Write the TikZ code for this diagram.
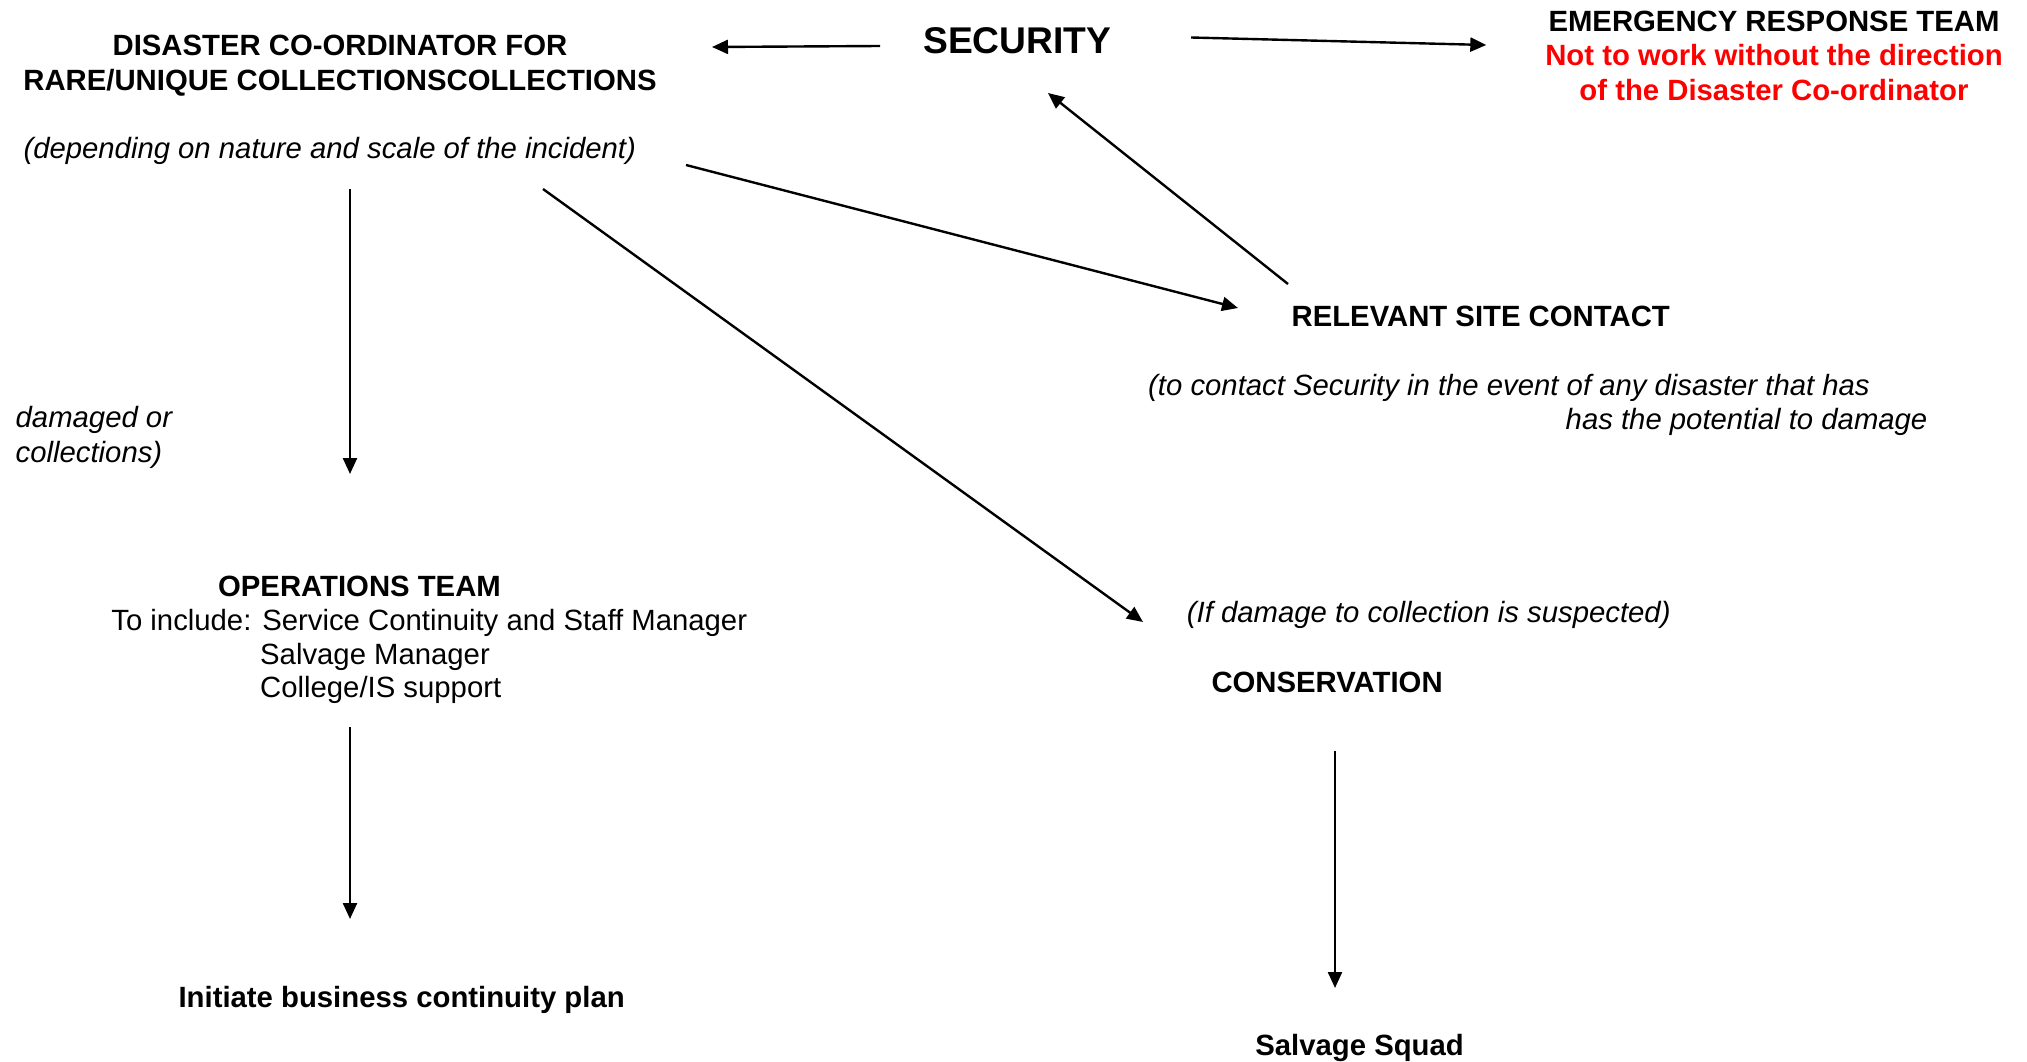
\documentclass[tikz,border=0pt]{standalone}
\usepackage{fontspec}
\setmainfont{Liberation Sans}
\usetikzlibrary{arrows.meta,calc}
\definecolor{alertred}{RGB}{255,0,0}
\tikzset{
  txt/.style={inner sep=0pt, font=\fontsize{29.3pt}{34pt}\selectfont},
  btxt/.style={txt, font=\fontsize{29.3pt}{34pt}\selectfont\bfseries},
  itxt/.style={txt, font=\fontsize{29.3pt}{34pt}\selectfont\itshape},
  arr/.style={line width=2.4pt, -{Triangle[length=16pt,width=14pt]}}
}
\begin{document}
\begin{tikzpicture}[x=1pt,y=-1pt]
\useasboundingbox (0,0) rectangle (2027,1062);
% texts
\node[btxt, anchor=base] (dc1) at (340,55.7) {DISASTER CO-ORDINATOR FOR};
\node[btxt, anchor=base] (dc2) at (340,90.6) {RARE/UNIQUE COLLECTIONSCOLLECTIONS};
\node[itxt, anchor=base west] (dep) at (23.3,158.5) {(depending on nature and scale of the incident)};
\node[inner sep=0pt, font=\fontsize{37.2pt}{42pt}\selectfont\bfseries, anchor=base west] (sec) at (923,53.3) {SECURITY};
\node[btxt, anchor=base] (ert1) at (1774,31.2) {EMERGENCY RESPONSE TEAM};
\node[btxt, text=alertred, anchor=base] (ert2) at (1774,66) {Not to work without the direction};
\node[btxt, text=alertred, anchor=base] (ert3) at (1774,101) {of the Disaster Co-ordinator};
\node[btxt, anchor=base west] (rsc) at (1291.4,326) {RELEVANT SITE CONTACT};
\node[itxt, anchor=base west] (rsc1) at (1148,395) {(to contact Security in the event of any disaster that has};
\node[itxt, anchor=base west] (rsc2) at (1565.5,429) {has the potential to damage};
\node[itxt, anchor=base west] (dm1) at (15.5,427.5) {damaged or};
\node[itxt, anchor=base west] (dm2) at (15.5,462) {collections)};
\node[btxt, anchor=base] (ops) at (359.5,596) {OPERATIONS TEAM};
\node[txt, anchor=base west] (ops1) at (111.2,630) {To include: Service Continuity and Staff Manager};
\node[txt, anchor=base west] (ops2) at (260,664) {Salvage Manager};
\node[txt, anchor=base west] (ops3) at (260,697) {College/IS support};
\node[btxt, anchor=base west] (init) at (178.4,1007) {Initiate business continuity plan};
\node[itxt, anchor=base west] (susp) at (1186.7,622) {(If damage to collection is suspected)};
\node[btxt, anchor=base west] (cons) at (1211.3,692) {CONSERVATION};
\node[btxt, anchor=base west] (sq) at (1255.2,1055) {Salvage Squad};
% connectors
\draw[arr] ($(sec.base west)+(-43,-7.3)$) -- ($(sec.base west)+(-211,-6.3)$);
\draw[arr] ($(sec.base west)+(268,-15.8)$) -- ($(ert1.base west)+(-62,13.8)$);
\draw[arr] ($(dep.base west)+(662.7,6.5)$) -- ($(rsc.base west)+(-53.4,-18)$);
\draw[arr] ($(rsc.base west)+(-3.4,-42)$) -- ($(sec.base west)+(125,39.7)$);
\draw[arr] ($(dep.base west)+(326.7,30.5)$) -- ($(ops.base)+(-9.5,-122)$);
\draw[arr] ($(dep.base west)+(519.7,30.5)$) -- ($(cons.base west)+(-68.3,-70)$);
\draw[arr] ($(ops3.base west)+(90,30)$) -- ($(init.base west)+(171.6,-88)$);
\draw[arr] ($(cons.base west)+(123.7,59)$) -- ($(sq.base west)+(79.8,-67)$);
\end{tikzpicture}
\end{document}
